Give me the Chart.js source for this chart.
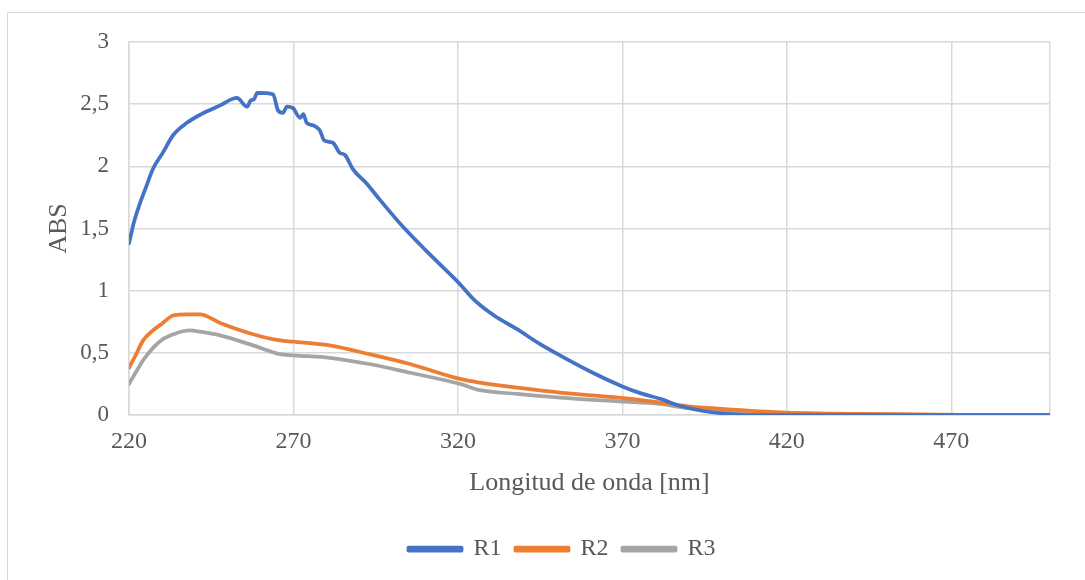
<!DOCTYPE html>
<html>
<head>
<meta charset="utf-8">
<script src="https://cdn.jsdelivr.net/npm/chart.js@4.4.1/dist/chart.umd.min.js"></script>
<style>
  html, body { margin: 0; padding: 0; background: #fff; }
  #wrap { position: relative; width: 1085px; height: 580px; overflow: hidden; }
  #frame { position: absolute; left: 7px; top: 12px; width: 1100px; height: 600px; border: 1px solid #d9d9d9; box-sizing: border-box; }
  canvas { position: absolute; left: 0; top: 0; }
</style>
</head>
<body>
<div id="wrap">
  <div id="frame"></div>
  <canvas id="c" width="1085" height="580"></canvas>
</div>
<script>
// ---- data ----
const seriesNames = ["R1", "R2", "R3"];
const seriesColors = ["#4472c4", "#ed7d31", "#a5a5a5"];

const r1Wavelength = [220, 221.5, 223.3, 225, 227.3, 230.3, 233.4, 237.6, 242, 247.7, 252.8, 255.9, 257, 258, 259, 263.8, 265.3, 266.8, 268, 269.8, 272, 273, 274, 276, 278, 279.3, 282, 284, 285.7, 288, 292.3, 296.3, 302.4, 310, 320, 325.2, 331, 338, 345, 351, 361, 370, 375, 381.5, 388, 395, 402, 410, 420, 500];
const r1Abs = [1.38, 1.55, 1.70, 1.82, 1.98, 2.11, 2.25, 2.35, 2.42, 2.49, 2.55, 2.48, 2.53, 2.54, 2.59, 2.58, 2.45, 2.43, 2.48, 2.47, 2.39, 2.42, 2.35, 2.33, 2.29, 2.21, 2.19, 2.11, 2.09, 1.98, 1.86, 1.73, 1.54, 1.33, 1.07, 0.92, 0.80, 0.69, 0.57, 0.48, 0.34, 0.23, 0.18, 0.13, 0.07, 0.03, 0.01, 0.0, 0.0, 0.0];

const r2Wavelength = [220, 222, 224.3, 227.3, 230.3, 233.4, 237.6, 241.6, 247.7, 257.7, 265.9, 270, 281, 293, 305.4, 320.6, 326.7, 338, 351, 369, 381.5, 390, 400, 420, 440, 460, 480, 500];
const r2Abs = [0.38, 0.48, 0.60, 0.68, 0.74, 0.80, 0.81, 0.81, 0.74, 0.65, 0.60, 0.59, 0.56, 0.49, 0.41, 0.29, 0.26, 0.22, 0.18, 0.14, 0.10, 0.07, 0.05, 0.02, 0.01, 0.005, 0.0, 0.0];

const r3Wavelength = [220, 222, 224.3, 227.3, 230.3, 234.6, 238.5, 241.6, 247.7, 257.7, 265.9, 270, 281, 293, 305.4, 320.6, 326.7, 338, 351, 369, 381.5, 390, 400, 420, 440, 460, 480, 500];
const r3Abs = [0.25, 0.34, 0.44, 0.54, 0.61, 0.66, 0.68, 0.67, 0.64, 0.56, 0.49, 0.48, 0.46, 0.41, 0.34, 0.25, 0.20, 0.17, 0.14, 0.11, 0.09, 0.055, 0.035, 0.015, 0.005, 0.0, 0.0, 0.0];

const xTickValues = [220, 270, 320, 370, 420, 470, 500];
const xTickLabels = ["220", "270", "320", "370", "420", "470", ""];
const yTickValues = [0, 0.5, 1, 1.5, 2, 2.5, 3];
const yTickLabels = ["0", "0,5", "1", "1,5", "2", "2,5", "3"];
const xTitle = "Longitud de onda [nm]";
const yTitle = "ABS";

// ---- build ----
function pts(xs, ys) { return xs.map((x, i) => ({ x: x, y: ys[i] })); }
const allX = [r1Wavelength, r2Wavelength, r3Wavelength];
const allY = [r1Abs, r2Abs, r3Abs];

const datasets = seriesNames.map((n, i) => ({
  label: n,
  data: pts(allX[i], allY[i]),
  borderColor: seriesColors[i],
  backgroundColor: seriesColors[i],
  borderWidth: 3.75,
  pointRadius: 0,
  cubicInterpolationMode: 'monotone',
  borderCapStyle: 'round',
  borderJoinStyle: 'round'
}));
const serif = "'Liberation Serif', 'Times New Roman', serif";

const legendShift = {
  id: 'legendShift',
  afterLayout(chart) {
    const lg = chart.legend;
    if (lg) { lg.left += 17; lg.right += 17; }
  }
};

new Chart(document.getElementById('c'), {
  type: 'line',
  data: { datasets: datasets },
  plugins: [legendShift],
  options: {
    responsive: false,
    animation: false,
    layout: { padding: { left: 40, top: 42, right: 35, bottom: 9 } },
    plugins: {
      legend: {
        position: 'bottom',
        labels: {
          font: { family: serif, size: 24 },
          color: '#595959',
          boxWidth: 53,
          boxHeight: 3,
          padding: 14
        }
      },
      tooltip: { enabled: false }
    },
    scales: {
      x: {
        type: 'linear',
        min: 220, max: 500,
        afterBuildTicks: (s) => { s.ticks = xTickValues.map(v => ({ value: v })); },
        afterFit: (s) => { s.height = 108; },
        ticks: {
          autoSkip: false,
          maxRotation: 0,
          font: { family: serif, size: 24 },
          color: '#595959',
          padding: 12,
          callback: (v) => { const k = xTickValues.indexOf(v); return k >= 0 ? xTickLabels[k] : ''; }
        },
        grid: { color: '#d9d9d9', lineWidth: 1.5, drawTicks: false },
        border: { color: '#d9d9d9', width: 1.5 },
        title: { display: true, text: xTitle, font: { family: serif, size: 26 }, color: '#595959', padding: { top: 4, bottom: 24 } }
      },
      y: {
        type: 'linear',
        min: 0, max: 3,
        afterBuildTicks: (s) => { s.ticks = yTickValues.map(v => ({ value: v })); },
        afterFit: (s) => { s.width = 89; },
        ticks: {
          font: { family: serif, size: 23 },
          color: '#595959',
          padding: 20,
          callback: (v) => { const k = yTickValues.indexOf(v); return k >= 0 ? yTickLabels[k] : ''; }
        },
        grid: { color: '#d9d9d9', lineWidth: 1.5, drawTicks: false },
        border: { color: '#d9d9d9', width: 1.5 },
        title: { display: true, text: yTitle, font: { family: serif, size: 26 }, color: '#595959', padding: { top: 4, bottom: 0 } }
      }
    }
  }
});
</script>
</body>
</html>
